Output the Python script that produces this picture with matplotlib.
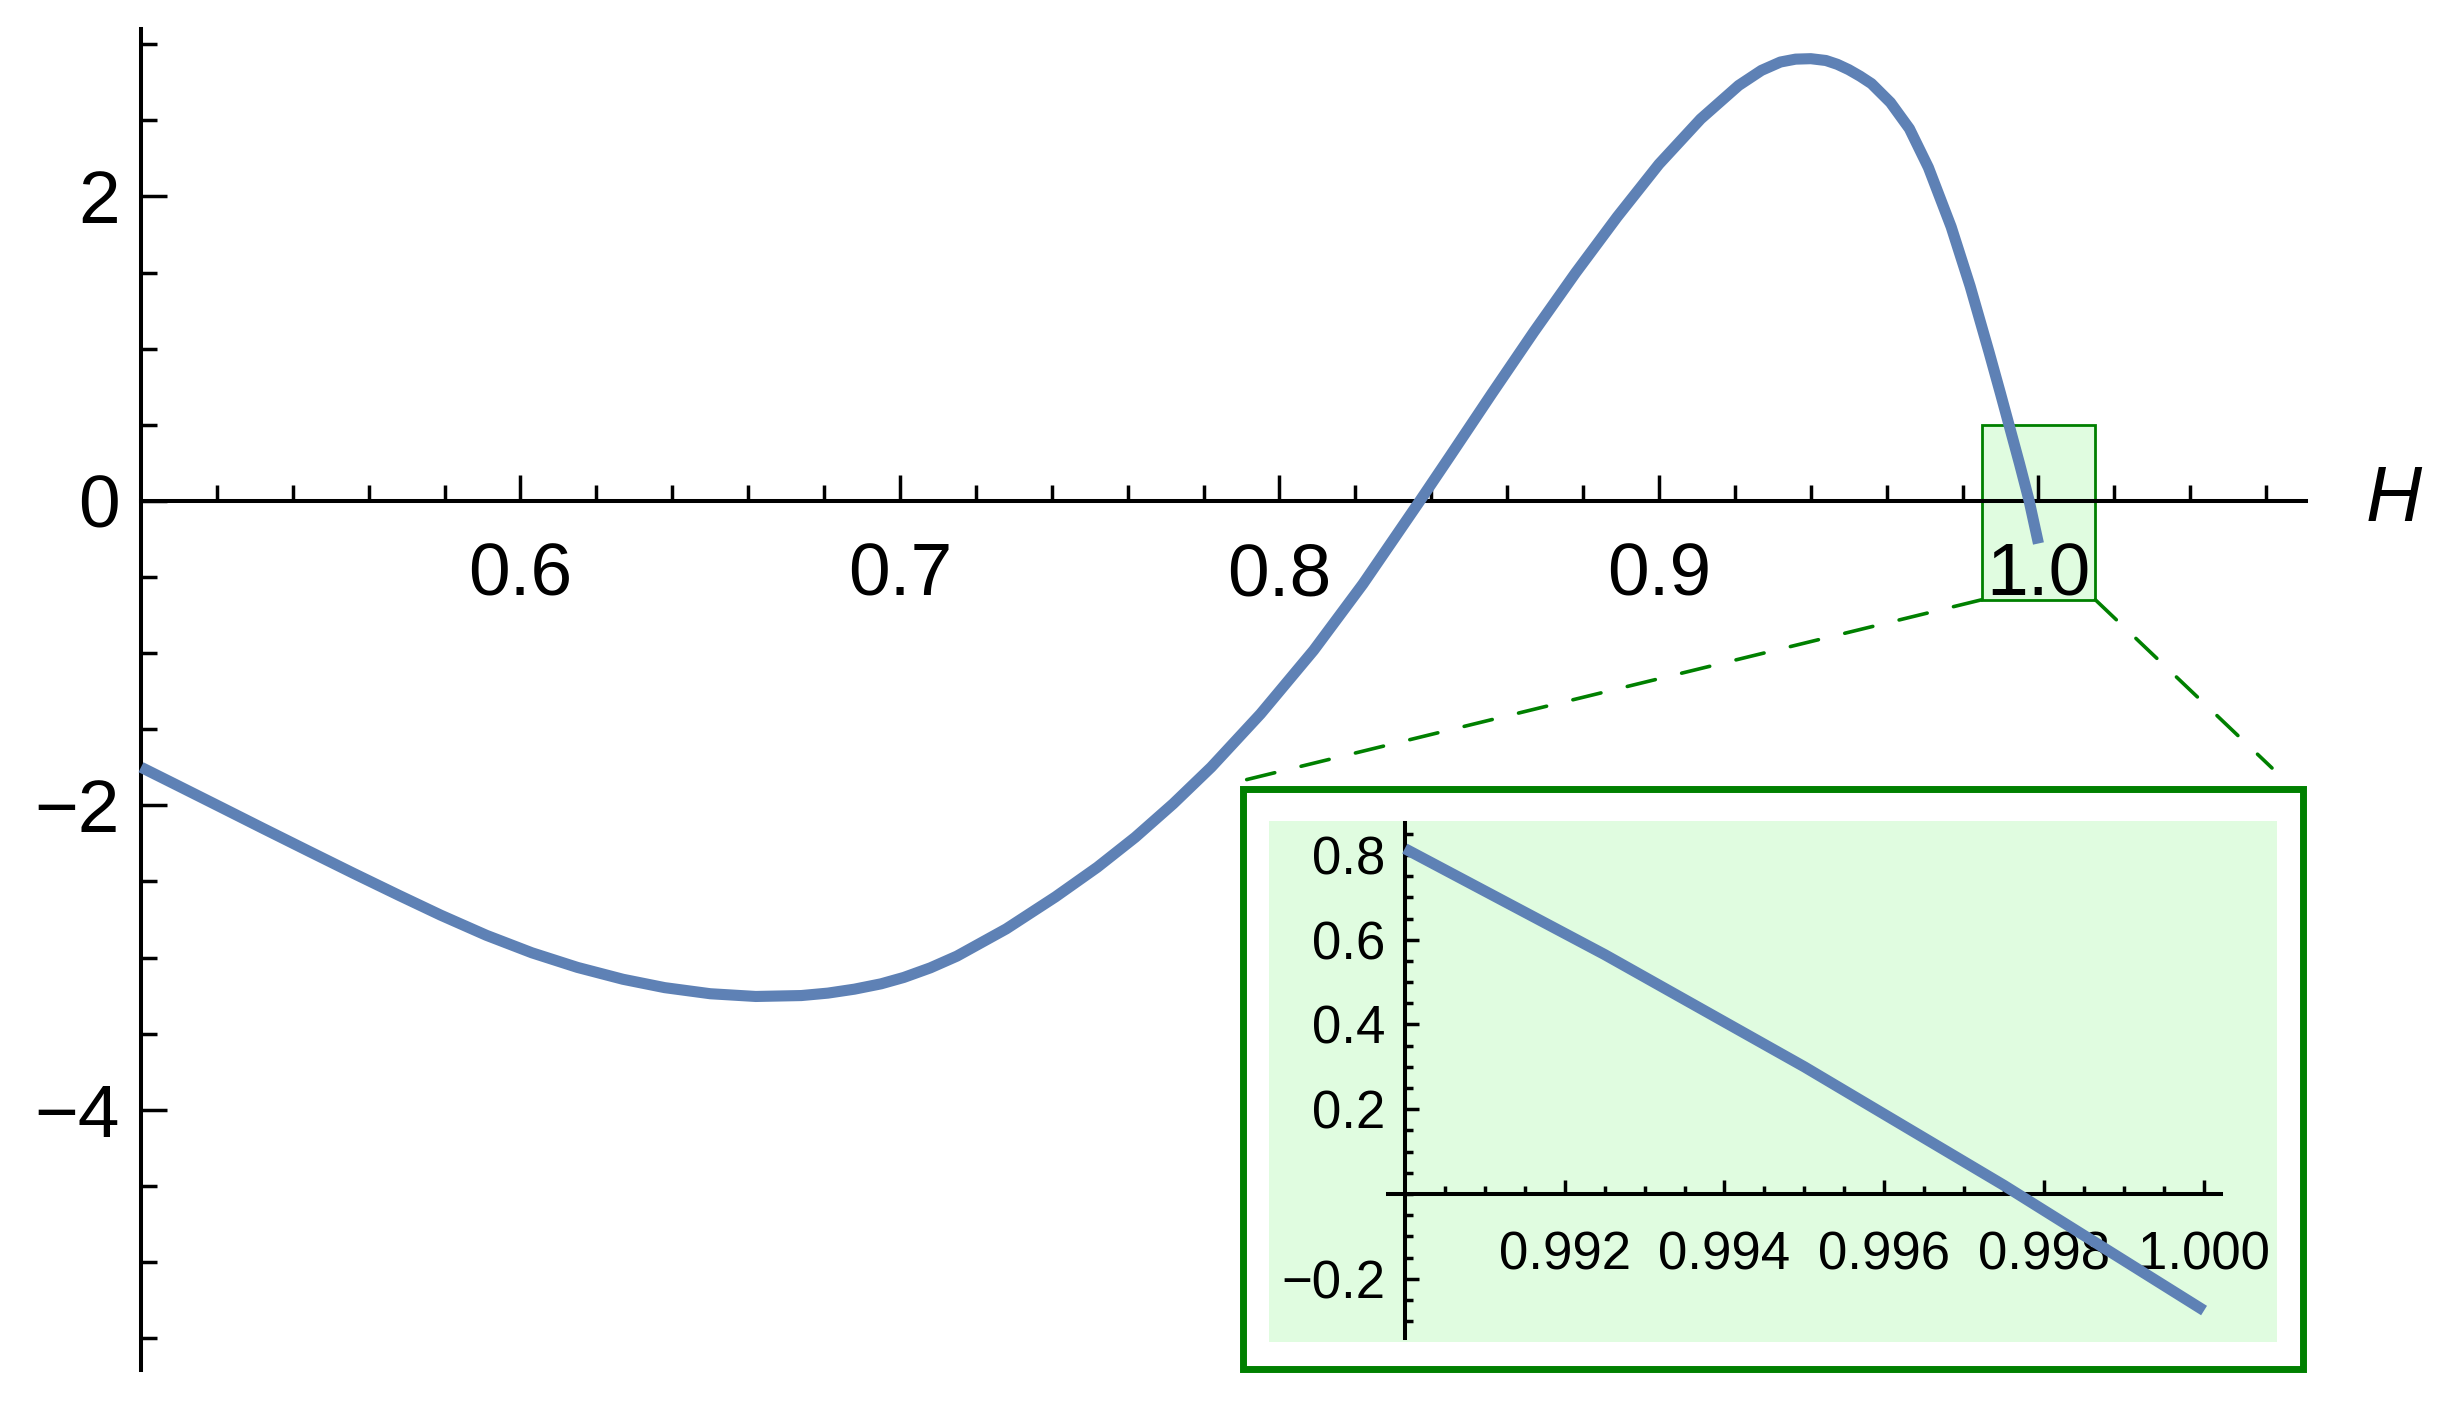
import numpy as np
import matplotlib.pyplot as plt
from matplotlib.patches import Rectangle, ConnectionPatch
from matplotlib.ticker import FixedLocator, FuncFormatter
from matplotlib.transforms import blended_transform_factory

plt.rcParams['font.family'] = ['Liberation Sans', 'DejaVu Sans']

# curve
h_main = [0.500, 0.509, 0.521, 0.532, 0.544, 0.556, 0.568, 0.579, 0.591, 0.603,
          0.615, 0.627, 0.638, 0.650, 0.662, 0.674, 0.681, 0.688, 0.695, 0.701,
          0.708, 0.715, 0.728, 0.741, 0.752, 0.762, 0.772, 0.782, 0.795, 0.809,
          0.822, 0.837, 0.845, 0.856, 0.867, 0.878, 0.889, 0.900, 0.911, 0.921,
          0.927, 0.932, 0.936, 0.940, 0.944, 0.947, 0.950, 0.953, 0.956, 0.961,
          0.966, 0.971, 0.977, 0.982, 0.987, 0.990, 0.9925, 0.995, 0.9975, 1.000]
f_main = [-1.750, -1.862, -2.012, -2.150, -2.299, -2.447, -2.592, -2.722, -2.854, -2.969,
          -3.065, -3.143, -3.198, -3.238, -3.256, -3.250, -3.234, -3.208, -3.173, -3.131,
          -3.068, -2.991, -2.812, -2.601, -2.407, -2.210, -1.990, -1.750, -1.400, -0.982,
          -0.546, 0.000, 0.296, 0.706, 1.109, 1.497, 1.866, 2.212, 2.509, 2.729,
          2.828, 2.883, 2.902, 2.905, 2.893, 2.868, 2.833, 2.790, 2.741, 2.617,
          2.445, 2.190, 1.800, 1.410, 0.975, 0.705, 0.475, 0.245, 0.005, -0.280]

# zoomed part shown in the inset
h_zoom = [0.990, 0.9925, 0.995, 0.9975, 1.000]
f_zoom = [0.815, 0.565, 0.300, 0.020, -0.275]

# highlighted window on the main plot
box_h = [0.985, 1.015]
box_f = [-0.65, 0.50]

main_xticks = [0.6, 0.7, 0.8, 0.9, 1.0]
main_yticks = [-4, -2, 0, 2]
zoom_xticks = [0.992, 0.994, 0.996, 0.998, 1.000]
zoom_yticks = [-0.2, 0.2, 0.4, 0.6, 0.8]

W, H = 2441, 1408
blue = '#5E81B5'
green = '#008000'
light = '#E0FCE0'


def fx(px):
    return px / W


def fy(py):
    return 1 - py / H


def minus(s):
    return s.replace('-', '\u2212')


fig = plt.figure(figsize=(W / 100, H / 100), dpi=100)
fig.patch.set_facecolor('white')

# main plot
ax = fig.add_axes([fx(141), fy(1370), fx(2306) - fx(141), fy(29) - fy(1370)])
ax.set_xlim(0.5, 1.0705)
ax.set_ylim(-5.71, 3.10)
ax.patch.set_visible(False)
for s in ('top', 'right'):
    ax.spines[s].set_visible(False)
ax.spines['bottom'].set_position(('data', 0))
ax.spines['left'].set_position(('data', 0.5))
for s in ('bottom', 'left'):
    ax.spines[s].set_linewidth(2.9)

ax.xaxis.set_major_locator(FixedLocator(main_xticks))
ax.xaxis.set_minor_locator(FixedLocator(np.arange(0.52, 1.07, 0.02)))
ax.yaxis.set_major_locator(FixedLocator(main_yticks))
ax.yaxis.set_minor_locator(FixedLocator(np.arange(-5.5, 3.01, 0.5)))
ax.xaxis.set_major_formatter(FuncFormatter(lambda v, p: f'{v:.1f}'))
ax.yaxis.set_major_formatter(FuncFormatter(lambda v, p: minus(f'{v:.0f}')))
ax.tick_params(which='major', direction='in', length=18.5, width=2.5, labelsize=54)
ax.tick_params(which='minor', direction='in', length=11.5, width=2.5)
ax.tick_params(axis='x', which='major', pad=29)
ax.tick_params(axis='y', which='major', pad=15)

ax.add_patch(Rectangle((box_h[0], box_f[0]), box_h[1] - box_h[0], box_f[1] - box_f[0],
                       facecolor=light, edgecolor=green, linewidth=2, zorder=1))
ax.plot(h_main, f_main, color=blue, linewidth=8, solid_capstyle='butt',
        solid_joinstyle='round', zorder=3, clip_on=False)

ax.text(1.0277, 0, 'H', transform=blended_transform_factory(ax.transAxes, ax.transData),
        fontsize=56, style='italic', ha='left', va='center')

# inset frame and background
fig.add_artist(Rectangle((fx(1243), fy(1369)), fx(2303) - fx(1243), fy(789) - fy(1369),
                         transform=fig.transFigure, facecolor='white', edgecolor=green,
                         linewidth=5, zorder=2))
fig.add_artist(Rectangle((fx(1269), fy(1342)), fx(2277) - fx(1269), fy(821) - fy(1342),
                         transform=fig.transFigure, facecolor=light, edgecolor='none',
                         zorder=2.1))

# dashed connectors
for hx, end in ((box_h[0], (fx(1245), fy(780))), (box_h[1], (fx(2272), fy(768)))):
    cp = ConnectionPatch(xyA=(hx, box_f[0]), coordsA=ax.transData,
                         xyB=end, coordsB=fig.transFigure,
                         color=green, linewidth=2.6, linestyle=(0, (8, 7.5)),
                         shrinkA=0, shrinkB=0, zorder=2.5)
    fig.add_artist(cp)

# inset plot
axins = fig.add_axes([fx(1388), fy(1337.5), fx(2221) - fx(1388), fy(823) - fy(1337.5)])
axins.set_zorder(3)
axins.patch.set_visible(False)
axins.set_xlim(0.98979, 1.000212)
axins.set_ylim(-0.3386, 0.8754)
for s in ('top', 'right'):
    axins.spines[s].set_visible(False)
axins.spines['bottom'].set_position(('data', 0))
axins.spines['left'].set_position(('data', 0.990))
for s in ('bottom', 'left'):
    axins.spines[s].set_linewidth(2.9)

axins.xaxis.set_major_locator(FixedLocator(zoom_xticks))
axins.xaxis.set_minor_locator(FixedLocator(np.arange(0.9905, 1.0001, 0.0005)))
axins.yaxis.set_major_locator(FixedLocator(zoom_yticks))
axins.yaxis.set_minor_locator(FixedLocator(np.arange(-0.30, 0.86, 0.05)))
axins.xaxis.set_major_formatter(FuncFormatter(lambda v, p: f'{v:.3f}'))
axins.yaxis.set_major_formatter(FuncFormatter(lambda v, p: minus(f'{v:.1f}')))
axins.tick_params(which='major', direction='in', length=10, width=2.5, labelsize=38)
axins.tick_params(which='minor', direction='in', length=6, width=2.5)
axins.tick_params(axis='x', which='major', pad=26)
axins.tick_params(axis='y', which='major', pad=14)

axins.plot(h_zoom, f_zoom, color=blue, linewidth=8, solid_capstyle='butt',
           solid_joinstyle='round', zorder=3, clip_on=False)

fig.savefig('out.png', dpi=100)
